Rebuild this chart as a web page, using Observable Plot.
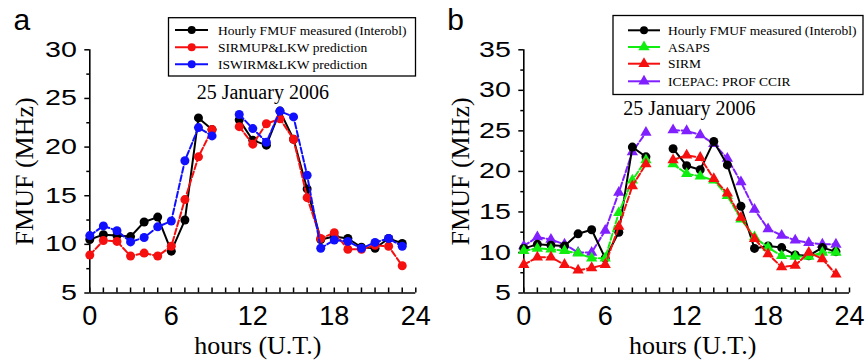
<!DOCTYPE html>
<html><head><meta charset="utf-8">
<script src="https://cdn.jsdelivr.net/npm/d3@7"></script>
<script src="https://cdn.jsdelivr.net/npm/@observablehq/plot@0.6"></script>
<style>
html,body{margin:0;padding:0;background:#fff;}
#wrap{position:relative;width:865px;height:360px;overflow:hidden;background:#fff;}
.panel{position:absolute;top:0;}
#legend{position:absolute;top:0;left:0;}
</style></head><body><div id="wrap"></div>
<script>
// ---------- data ----------
const hours = [0,1,2,3,4,5,6,7,8,9,10,11,12,13,14,15,16,17,18,19,20,21,22,23];
const measured  = [10.5,11.0,10.9,10.8,12.3,12.8,9.3,12.5,23.0,21.8,null,22.8,20.7,20.2,23.7,20.8,15.7,10.5,10.8,10.6,9.7,9.6,10.6,10.1];
const sirmupLkw = [8.9,10.4,10.3,8.8,9.1,8.8,9.8,14.6,19.0,21.8,null,22.1,20.3,22.4,22.9,20.8,14.8,10.6,11.2,9.5,9.5,9.9,9.8,7.8];
const iswirmLkw = [10.9,11.9,11.4,10.25,10.7,11.8,12.4,18.6,22.0,21.15,null,23.35,21.9,20.5,23.7,23.1,17.1,9.6,10.45,10.3,9.6,10.2,10.6,9.8];
const asaps     = [10.2,10.5,10.4,10.2,9.9,9.3,9.3,14.9,18.9,21.4,null,20.9,19.7,19.4,18.9,17.0,14.1,11.9,10.6,9.6,9.5,9.5,10.0,10.0];
const sirm      = [8.5,9.4,9.4,8.5,7.8,8.1,8.5,13.2,18.2,20.9,null,21.4,22.0,21.7,19.1,17.3,14.3,11.7,9.8,8.2,8.4,10.0,9.2,7.3];
const icepac    = [10.8,11.9,11.6,11.0,10.0,10.0,12.7,17.4,22.4,24.8,null,25.1,25.0,24.5,23.4,21.6,18.7,15.3,12.9,12.1,11.5,11.2,11.0,11.0];

const xTicks = [0,6,12,18,24];
const xMinor = [0,1,2,3,4,5,6,7,8,9,10,11,12,13,14,15,16,17,18,19,20,21,22,23,24];
const yTicksA = [5,10,15,20,25,30];
const yMinorA = [7.5,12.5,17.5,22.5,27.5];
const yTicksB = [5,10,15,20,25,30,35];
const yMinorB = [7.5,12.5,17.5,22.5,27.5,32.5];

const dateLabel = "25 January 2006";
const yLabel = "FMUF (MHz)";
const xLabel = "hours (U.T.)";

const BLACK = "#000000", RED = "#f50f0f", BLUE = "#1010ff", GREEN = "#10ee10", PURPLE = "#8020ff";
const SERIF = "Liberation Serif, Times New Roman, serif";
const SANS = "Liberation Sans, Arial, sans-serif";

const seriesA = [
  {name: "Hourly FMUF measured (Interobl)", values: measured, color: BLACK, symbol: "circle", dash: null},
  {name: "SIRMUP&LKW prediction", values: sirmupLkw, color: RED, symbol: "circle", dash: "6,2.5"},
  {name: "ISWIRM&LKW prediction", values: iswirmLkw, color: BLUE, symbol: "circle", dash: "6,2.5"}
];
const seriesB = [
  {name: "Hourly FMUF measured (Interobl)", values: measured, color: BLACK, symbol: "circle", dash: null},
  {name: "ASAPS", values: asaps, color: GREEN, symbol: "triangle", dash: "6,2.5"},
  {name: "SIRM", values: sirm, color: RED, symbol: "triangle", dash: "6,2.5"},
  {name: "ICEPAC: PROF CCIR", values: icepac, color: PURPLE, symbol: "triangle", dash: "6,2.5"}
];
const drawOrderB = [3, 0, 1, 2];

function rowsOf(s) { return hours.map((h, i) => ({hour: h, value: s.values[i]})); }

function seriesMarks(s) {
  const rows = rowsOf(s);
  return [
    Plot.line(rows, {x: "hour", y: "value", stroke: s.color, strokeWidth: 2, strokeDasharray: s.dash}),
    Plot.dot(rows, {x: "hour", y: "value", fill: s.color, stroke: "none", symbol: s.symbol, r: s.symbol === "circle" ? 4.5 : 4.2})
  ];
}

function makePanel(o) {
  return Plot.plot({
    width: o.width, height: 360,
    marginLeft: o.marginLeft, marginRight: o.marginRight, marginTop: 49.3, marginBottom: 67.5,
    x: {domain: [0, 24]},
    y: {domain: o.yDomain},
    style: {fontFamily: SANS, fontSize: "22px", color: "#000", background: "transparent", overflow: "visible"},
    marks: [
      Plot.axisY({ticks: o.yTicks, tickSize: 5, tickPadding: 8, fontSize: 22, label: null, strokeWidth: 1.5}),
      Plot.axisY({ticks: o.yMinor, tickSize: 3, tickFormat: () => "", label: null, strokeWidth: 1.5}),
      Plot.axisX({ticks: xTicks, tickSize: 0, tickPadding: 13, fontSize: 27, label: null}),
      Plot.axisX({ticks: xMinor, tickSize: -5, tickFormat: () => "", label: null, strokeWidth: 1.5}),
      Plot.ruleX([0], {strokeWidth: 1.6}),
      Plot.ruleY([o.yDomain[0]], {strokeWidth: 1.6}),
      ...o.order.flatMap(i => seriesMarks(o.series[i])),
      Plot.text([dateLabel], {frameAnchor: "top", dx: o.dateDx, dy: o.dateDy, lineAnchor: "middle", textAnchor: "middle", fontFamily: SERIF, fontSize: 20}),
      Plot.text([yLabel], {frameAnchor: "left", rotate: -90, dx: o.yLabelDx, textAnchor: "middle", lineAnchor: "middle", fontFamily: SERIF, fontSize: 26}),
      Plot.text([xLabel], {frameAnchor: "bottom", dx: o.xLabelDx, dy: 52.5, textAnchor: "middle", lineAnchor: "middle", fontFamily: SERIF, fontSize: 26}),
      Plot.text([o.letter], {frameAnchor: "top-left", dx: o.letterDx, dy: -20, textAnchor: "start", lineAnchor: "bottom", fontFamily: SANS, fontSize: 30})
    ]
  });
}

const wrap = document.getElementById("wrap");
const panelA = makePanel({width: 430, marginLeft: 89.3, marginRight: 14.7, yDomain: [5, 30], yTicks: yTicksA, yMinor: yMinorA,
  series: seriesA, order: [0, 1, 2], letter: "a", letterDx: -76.3, dateDx: 10, dateDy: 43, yLabelDx: -65, xLabelDx: 5});
const panelB = makePanel({width: 435, marginLeft: 93.3, marginRight: 16, yDomain: [5, 35], yTicks: yTicksB, yMinor: yMinorB,
  series: seriesB, order: drawOrderB, letter: "b", letterDx: -76.6, dateDx: 2.7, dateDy: 59, yLabelDx: -63, xLabelDx: 6});
panelA.classList.add("panel"); panelA.style.left = "0px";
panelB.classList.add("panel"); panelB.style.left = "430px";
wrap.appendChild(panelA);
wrap.appendChild(panelB);

// widen y tick labels as in the reference
for (const svg of [panelA, panelB]) {
  d3.select(svg).selectAll('g[aria-label="y-axis tick label"] text').each(function() {
    const len = this.getComputedTextLength();
    if (len > 0) {
      this.setAttribute("textLength", (len * 1.3).toFixed(2));
      this.setAttribute("lengthAdjust", "spacingAndGlyphs");
    }
  });
}

// ---------- legends ----------
const legend = d3.select(wrap).append("svg").attr("id", "legend").attr("width", 865).attr("height", 360);
function drawLegend(series, L) {
  const g = legend.append("g");
  g.append("rect").attr("x", L.x).attr("y", L.y).attr("width", L.w).attr("height", L.h)
    .attr("fill", "#fff").attr("stroke", "#000").attr("stroke-width", 1.3);
  series.forEach((s, i) => {
    const y = L.rowY[i];
    g.append("line").attr("x1", L.lx1).attr("x2", L.lx2).attr("y1", y).attr("y2", y)
      .attr("stroke", s.color).attr("stroke-width", 2);
    if (s.symbol === "circle") {
      g.append("circle").attr("cx", L.mx).attr("cy", y).attr("r", 4).attr("fill", s.color);
    } else {
      g.append("path").attr("transform", `translate(${L.mx},${y})`)
        .attr("d", d3.symbol(d3.symbolTriangle, Math.PI * 4.2 * 4.2)()).attr("fill", s.color);
    }
    g.append("text").attr("x", L.tx).attr("y", y).attr("dy", "0.35em")
      .attr("font-family", SERIF).attr("font-size", 13.5).attr("fill", "#000").text(s.name);
  });
}
drawLegend(seriesA, {x: 168.5, y: 17.7, w: 247, h: 58.3, rowY: [30, 47.3, 64.3], lx1: 175, lx2: 208, mx: 191.7, tx: 218});
drawLegend(seriesB, {x: 613, y: 15.5, w: 250, h: 79, rowY: [30.3, 47, 63.7, 81.3], lx1: 628, lx2: 660, mx: 644, tx: 668});
</script></body></html>
